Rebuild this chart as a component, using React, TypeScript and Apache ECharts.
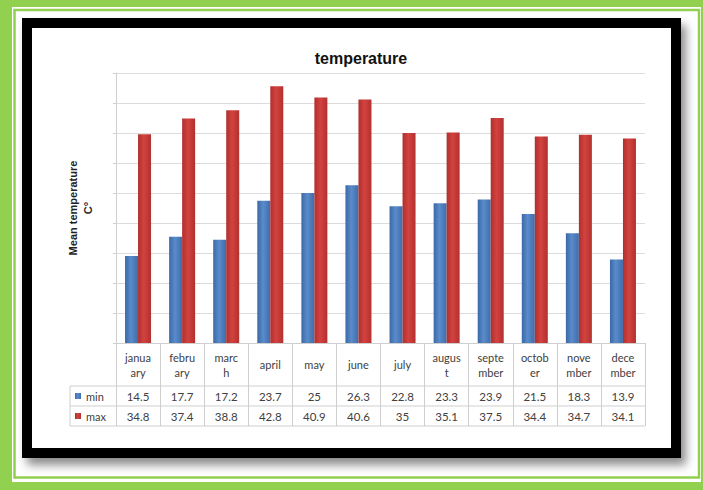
import React, { useEffect, useRef } from "react";
import * as echarts from "echarts";

const categories = [
  "janua\nary", "febru\nary", "marc\nh", "april", "may", "june",
  "july", "augus\nt", "septe\nmber", "octob\ner", "nove\nmber", "dece\nmber",
];
const minValues = [14.5, 17.7, 17.2, 23.7, 25, 26.3, 22.8, 23.3, 23.9, 21.5, 18.3, 13.9];
const maxValues = [34.8, 37.4, 38.8, 42.8, 40.9, 40.6, 35, 35.1, 37.5, 34.4, 34.7, 34.1];
const seriesNames = ["min", "max"];
const chartTitle = "temperature";
const yAxisTitle = "Mean temperature\nC°";

const W = 703;
const H = 490;
const GRID_LEFT = 116;
const GRID_RIGHT_X = 645;
const GRID_TOP = 73;
const AXIS_Y = 343;
const HEADER_H = 43;
const ROW_H = 20;
const TABLE_LEFT = 70;
const LINE_COLOR = "#cfcfcf";
const TEXT_COLOR = "#404040";
const FONT = "Lato, 'Liberation Sans', sans-serif";

const blueGrad = new echarts.graphic.LinearGradient(0, 0, 1, 0, [
  { offset: 0, color: "#3b69a6" },
  { offset: 0.45, color: "#5a8bcb" },
  { offset: 1, color: "#3f6dab" },
]);
const redGrad = new echarts.graphic.LinearGradient(0, 0, 1, 0, [
  { offset: 0, color: "#b02f2d" },
  { offset: 0.45, color: "#d2433f" },
  { offset: 1, color: "#b3302e" },
]);

export default function App() {
  const ref = useRef<HTMLDivElement>(null);
  useEffect(() => {
    if (!ref.current) return;
    const chart = echarts.init(ref.current, null, { renderer: "svg", width: W, height: H });
    const row1Y = AXIS_Y + HEADER_H;
    const row2Y = row1Y + ROW_H;
    const row3Y = row2Y + ROW_H;
    const hLine = (y: number) => ({
      type: "line",
      z: 50,
      shape: { x1: TABLE_LEFT, y1: y, x2: GRID_RIGHT_X, y2: y },
      style: { stroke: LINE_COLOR, lineWidth: 1 },
    });
    chart.setOption({
      animation: false,
      backgroundColor: "#92d050",
      title: {
        text: chartTitle,
        left: 356,
        top: 45,
        textAlign: "center",
        textStyle: { fontSize: 16, fontWeight: "bold", color: "#111", fontFamily: "'Liberation Sans', Arial, sans-serif" },
      },
      legend: {
        data: seriesNames,
        orient: "vertical",
        left: TABLE_LEFT,
        top: row1Y - 1,
        itemWidth: 6,
        itemHeight: 6,
        itemGap: 8,
        icon: "rect",
        textStyle: { fontSize: 11, color: TEXT_COLOR, fontFamily: FONT, lineHeight: 12 },
      },
      grid: {
        left: GRID_LEFT,
        right: W - GRID_RIGHT_X,
        top: GRID_TOP,
        bottom: H - AXIS_Y,
        containLabel: false,
      },
      xAxis: [
        {
          type: "category",
          data: categories,
          position: "bottom",
          axisLine: { show: true, lineStyle: { color: LINE_COLOR } },
          axisTick: { show: true, interval: 0, length: HEADER_H + 2 * ROW_H, lineStyle: { color: LINE_COLOR } },
          axisLabel: {
            interval: 0,
            margin: HEADER_H / 2,
            verticalAlign: "middle",
            lineHeight: 15,
            fontSize: 11,
            color: TEXT_COLOR,
            fontFamily: FONT,
          },
        },
        {
          type: "category",
          data: minValues.map(String),
          position: "bottom",
          offset: 0,
          axisLine: { show: false },
          axisTick: { show: false },
          axisLabel: {
            interval: 0,
            margin: HEADER_H + ROW_H / 2,
            verticalAlign: "middle",
            fontSize: 11.5,
            color: TEXT_COLOR,
            fontFamily: FONT,
          },
        },
        {
          type: "category",
          data: maxValues.map(String),
          position: "bottom",
          offset: 0,
          axisLine: { show: false },
          axisTick: { show: false },
          axisLabel: {
            interval: 0,
            margin: HEADER_H + ROW_H * 1.5,
            verticalAlign: "middle",
            fontSize: 11.5,
            color: TEXT_COLOR,
            fontFamily: FONT,
          },
        },
      ],
      yAxis: {
        type: "value",
        min: 0,
        max: 45,
        interval: 5,
        name: yAxisTitle,
        nameLocation: "middle",
        nameRotate: 90,
        nameGap: 21,
        nameTextStyle: {
          fontSize: 11,
          fontWeight: "bold",
          color: "#222",
          fontFamily: "'Liberation Sans', Arial, sans-serif",
          lineHeight: 15,
        },
        axisLabel: { show: false },
        axisLine: { show: true, lineStyle: { color: LINE_COLOR } },
        axisTick: { show: true, length: 3, lineStyle: { color: LINE_COLOR } },
        splitLine: { show: true, lineStyle: { color: "#dcdcdc" } },
      },
      series: [
        {
          name: seriesNames[0],
          type: "bar",
          data: minValues,
          xAxisIndex: 0,
          barWidth: 13,
          barGap: "0%",
          itemStyle: { color: blueGrad },
        },
        {
          name: seriesNames[1],
          type: "bar",
          data: maxValues,
          xAxisIndex: 0,
          barWidth: 13,
          barGap: "0%",
          itemStyle: { color: redGrad },
        },
      ],
      graphic: [
        { type: "rect", z: -20, shape: { x: 12, y: 7, width: 689, height: 475 }, style: { fill: "#ffffff" } },
        {
          type: "rect",
          z: -19,
          shape: { x: 14.5, y: 10, width: 684.5, height: 467.5 },
          style: { fill: "none", stroke: "#92d050", lineWidth: 2.5 },
        },
        {
          type: "rect",
          z: -18,
          shape: { x: 22, y: 18, width: 659, height: 440 },
          style: {
            fill: "#000000",
            shadowBlur: 10,
            shadowOffsetX: 5,
            shadowOffsetY: 7,
            shadowColor: "rgba(0,0,0,0.45)",
          },
        },
        { type: "rect", z: -17, shape: { x: 32, y: 28, width: 639, height: 420 }, style: { fill: "#ffffff" } },
        hLine(row1Y),
        hLine(row2Y),
        hLine(row3Y),
        {
          type: "line",
          z: 50,
          shape: { x1: TABLE_LEFT, y1: row1Y, x2: TABLE_LEFT, y2: row3Y },
          style: { stroke: LINE_COLOR, lineWidth: 1 },
        },
      ],
    });
    return () => chart.dispose();
  }, []);
  return (
    <div
      ref={ref}
      style={{ position: "fixed", left: 0, top: 0, width: W, height: H }}
    />
  );
}
